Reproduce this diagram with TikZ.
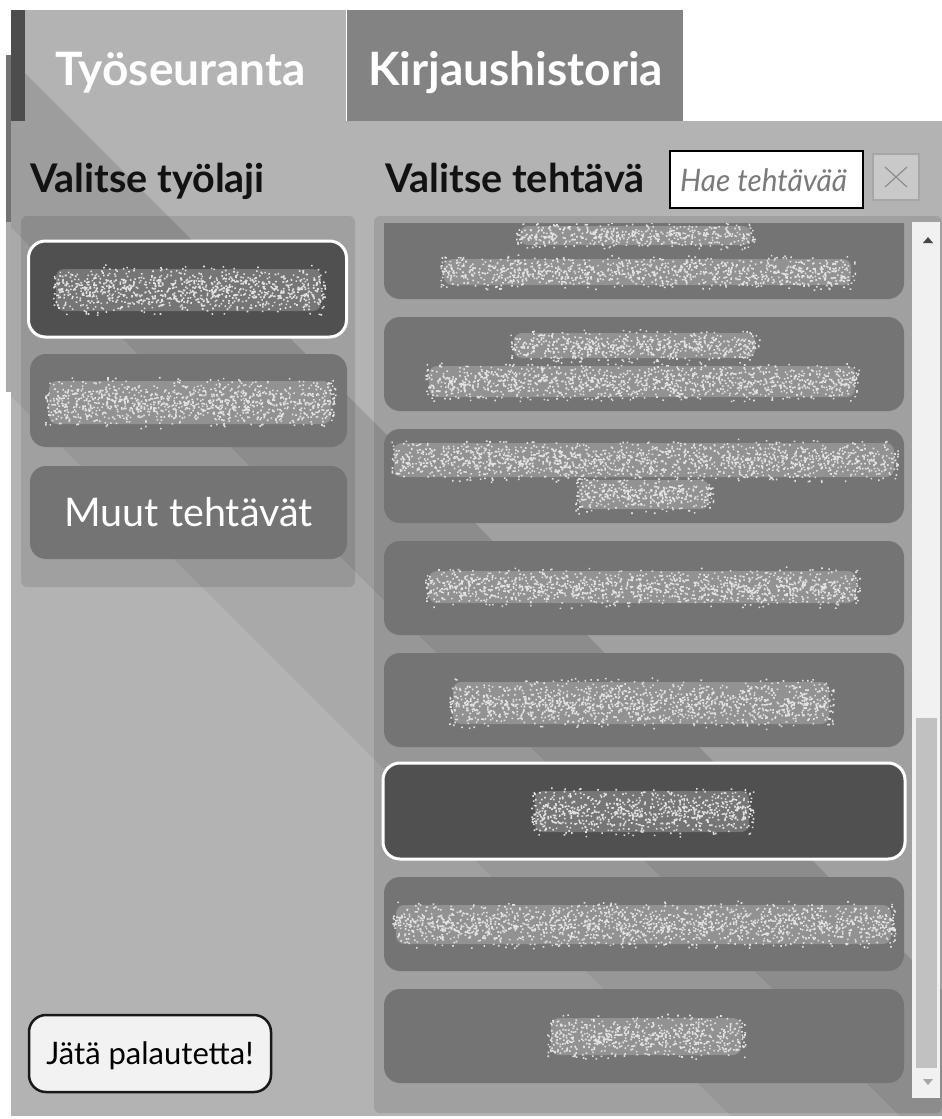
\documentclass[tikz,border=0pt]{standalone}
\usepackage{fontspec}
\setmainfont{Lato}
\usetikzlibrary{positioning}

\definecolor{panelgray}{HTML}{B3B3B3}
\definecolor{tabgray}{HTML}{838383}
\definecolor{bardark}{HTML}{4D4D4D}
\definecolor{btngray}{HTML}{747474}
\definecolor{btnsel}{HTML}{505050}
\definecolor{tracklight}{HTML}{F1F1F1}
\definecolor{thumbgray}{HTML}{C1C1C1}
\definecolor{fbfill}{HTML}{F2F2F2}
\definecolor{hintgray}{HTML}{7A7A7A}
\definecolor{clearfill}{HTML}{C9C9C9}
\definecolor{clearline}{HTML}{A6A6A6}
\definecolor{specks}{HTML}{E2E2E2}

% speckled stand-in for the blurred labels
\newcommand{\noiseblob}[4]{%
  \fill[white, fill opacity=0.22, rounded corners=8pt] (#1+4,#2+5) rectangle (#3-4,#4-5);
  \pgfmathtruncatemacro{\nspecks}{((#3-#1)/14)*(#4-#2)}
  \fill[specks] \foreach \k in {1,...,\nspecks} {
      ({#1+rnd*(#3-#1)},{#2+(rnd+rnd)/2*(#4-#2)}) rectangle ++(1.6,1.6)
  };
}

\begin{document}
\begin{tikzpicture}[
      x=1pt, y=-1pt,
      tablabel/.style={
        text=white, inner sep=0pt, anchor=base west,
        font=\fontsize{46}{46}\selectfont\bfseries
      },
      heading/.style={
        text=black!93, inner sep=0pt, anchor=base west,
        font=\fontsize{39.5}{40}\selectfont\bfseries
      },
      workbtn/.style={
        rectangle, fill=btngray, rounded corners=16pt,
        minimum width=317pt, minimum height=93pt,
        text=white, font=\fontsize{39.5}{40}\selectfont
      },
      taskbtn/.style={
        rectangle, fill=btngray, rounded corners=16pt,
        minimum width=520pt, minimum height=94pt
      },
      chosen/.style={
        fill=btnsel, draw=white, line width=3pt, rounded corners=17pt
      }
    ]
    \pgfmathsetseed{11}
    \useasboundingbox (0,0) rectangle (942,1119);
    \fill[white] (0,0) rectangle (942,1119);

    % tabs and panel
    \fill[panelgray] (11,121) rectangle (942,1116);
    \fill[panelgray] (11,10) rectangle (346,121);
    \fill[tabgray] (347,10) rectangle (683,121);

    % diagonal stripes of the background
    \begin{scope}
      \clip (11,10) rectangle (346,121) (11,121) rectangle (942,1116);
      \fill[black, fill opacity=0.12] (0,48) -- (1300,1348) -- (1300,1516) -- (0,216) -- cycle;
      \fill[black, fill opacity=0.05] (0,216) -- (1300,1516) -- (1300,1685) -- (0,385) -- cycle;
    \end{scope}
    \fill[black!55] (6,55) rectangle (11,222);
    \fill[black!33] (6,222) rectangle (11,392);
    \fill[bardark] (11,10) rectangle (25,121);

    \node[tablabel] (tabwork) at (55,85) {Työseuranta};
    \node[tablabel] (tabhist) at (368,85) {Kirjaushistoria};

    % left column: work types
    \node[heading] (worktitle) at (30,192) {Valitse työlaji};
    \fill[black, fill opacity=0.1, rounded corners=6pt] (21,216) rectangle (355,587);

    \node[workbtn, chosen, minimum width=318pt, minimum height=96pt] (work1) at (187.5,289) {};
    \noiseblob{52}{264}{325}{316}
    \node[workbtn] (work2) at (188.5,400.5) {};
    \noiseblob{45}{376}{335}{429}
    \node[workbtn] (work3) at (188.5,512.5) {Muut tehtävät};

    \node[rectangle, draw=black!90, line width=2.5pt, fill=fbfill, rounded corners=17pt,
          minimum width=242pt, minimum height=77pt, text depth=0pt,
          font=\fontsize{31}{31}\selectfont] (feedback) at (150,1053.5)
          {Jätä palautetta!};

    % right column: tasks
    \node[heading] (tasktitle) at (385,192) {Valitse tehtävä};
    \node[rectangle, draw=black, line width=2pt, fill=white,
          minimum width=193pt, minimum height=57pt] (search) at (766.5,179.5) {};
    \node[anchor=base west, inner sep=0pt, text=hintgray,
          font=\fontsize{31}{31}\selectfont\itshape] (hint) at (680,191)
          {\scalebox{0.96}[1]{Hae tehtävää}};
    \node[rectangle, draw=clearline, line width=1.5pt, fill=clearfill,
          minimum width=46pt, minimum height=46pt] (clear) at (896,177) {};
    \draw[black!45, line width=1.2pt] ([shift={(-11,-10)}]clear.center) -- ([shift={(11,10)}]clear.center);
    \draw[black!45, line width=1.2pt] ([shift={(-11,10)}]clear.center) -- ([shift={(11,-10)}]clear.center);

    \fill[black, fill opacity=0.1, rounded corners=6pt] (374,216) rectangle (942,1113);

    \begin{scope}
      \clip (374,223) rectangle (912,1113);
      \node[taskbtn] (task1) at (644,252) {};
      \noiseblob{516}{221}{755}{250}
      \noiseblob{440}{254}{855}{290}
    \end{scope}
    \node[taskbtn] (task2) at (644,364) {};
    \noiseblob{510}{328}{759}{363}
    \noiseblob{425}{361}{859}{402}
    \node[taskbtn] (task3) at (644,476) {};
    \noiseblob{390}{438}{898}{482}
    \noiseblob{575}{475}{713}{514}
    \node[taskbtn] (task4) at (644,588) {};
    \noiseblob{425}{566}{860}{608}
    \node[taskbtn] (task5) at (644,700) {};
    \noiseblob{449}{677}{833}{729}
    \node[taskbtn, chosen, minimum width=522pt, minimum height=96pt] (task6) at (644,811) {};
    \noiseblob{531}{786}{753}{837}
    \node[taskbtn] (task7) at (644,924) {};
    \noiseblob{392}{900}{895}{949}
    \node[taskbtn] (task8) at (644,1036) {};
    \noiseblob{547}{1013}{745}{1060}

    % scrollbar
    \fill[tracklight] (912,222) rectangle (940,1098);
    \fill[thumbgray] (916,718) rectangle (937,1068);
    \fill[black!72] (923,243) -- (933,243) -- (928,237) -- cycle;
    \fill[black!35] (923,1079) -- (933,1079) -- (928,1085) -- cycle;
\end{tikzpicture}
\end{document}
